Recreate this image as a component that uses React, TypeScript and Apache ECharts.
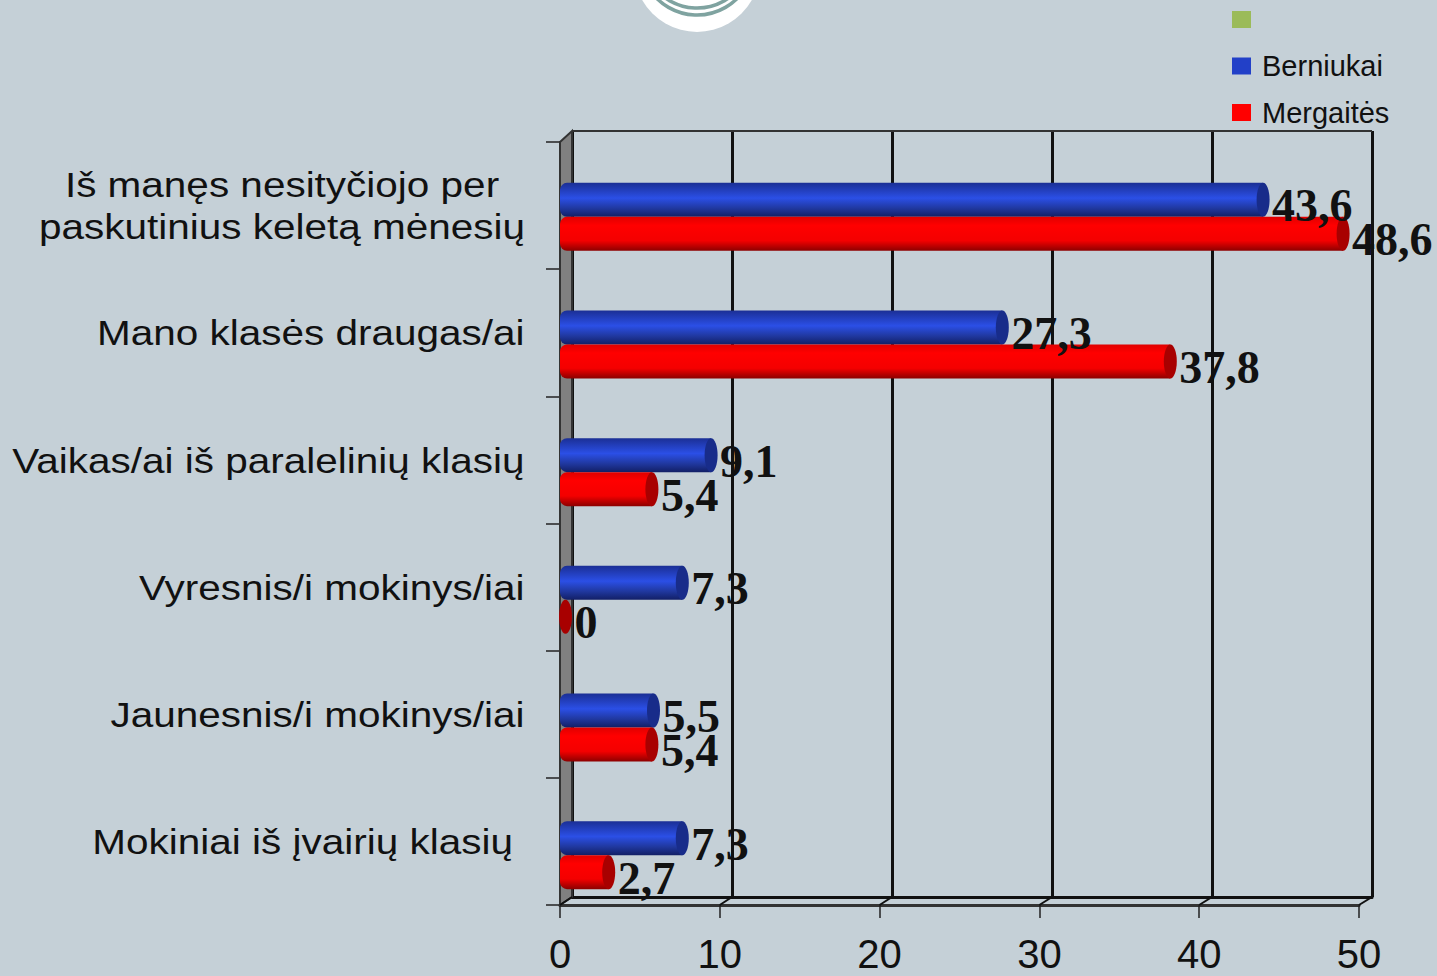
import React, { useEffect, useRef } from "react";
import * as echarts from "echarts";

const categories = [
  "Iš manęs nesityčiojo per\npaskutinius keletą mėnesių",
  "Mano klasės draugas/ai",
  "Vaikas/ai iš paralelinių klasių",
  "Vyresnis/i mokinys/iai",
  "Jaunesnis/i mokinys/iai",
  "Mokiniai iš įvairių klasių",
];
const berniukai = [43.6, 27.3, 9.1, 7.3, 5.5, 7.3];
const mergaites = [48.6, 37.8, 5.4, 0, 5.4, 2.7];
const xTicks = [0, 10, 20, 30, 40, 50];

const W = 1437, H = 976;
const FRONT = { left: 560, top: 142, width: 799, height: 763 };
const BARS = { left: 565.5, top: 153, width: 800, height: 766 };
const BACK = { left: 572, top: 131, width: 800, height: 766 };
const BG = "#c5d0d7";
const SANS = '"Liberation Sans", Arial, sans-serif';
const SERIF = '"Liberation Serif", "Times New Roman", serif';

const barH = 34;
const LABEL_STRETCH = 1.125;

const grad = (stops: [number, string][]) =>
  new echarts.graphic.LinearGradient(0, 0, 0, 1, stops.map(([offset, color]) => ({ offset, color })));

function barRenderer(dir: number, stops: [number, string][], capColor: string) {
  return (_p: any, api: any) => {
    const v = api.value(0);
    const [xv, yc] = api.coord([v, api.value(1)]);
    const cy = yc + (dir * barH) / 2;
    const children: any[] = [];
    if (v > 0) {
      children.push({
        type: "rect",
        shape: { x: FRONT.left, y: cy - barH / 2, width: xv - FRONT.left, height: barH, r: [7, 0, 0, 7] },
        style: { fill: grad(stops) },
      });
    }
    children.push({
      type: "ellipse",
      shape: { cx: xv, cy, rx: 6.5, ry: barH / 2 },
      style: { fill: capColor },
    });
    return { type: "group", children };
  };
}

function labelRenderer(dir: number) {
  return (_p: any, api: any) => {
    const v = api.value(0);
    const [xv, yc] = api.coord([v, api.value(1)]);
    const cy = yc + (dir * barH) / 2;
    return {
      type: "text",
      x: xv + 9,
      y: cy + 6,
      style: {
        text: String(v).replace(".", ","),
        font: `bold 46px ${SERIF}`,
        fill: "#111111",
        textAlign: "left",
        textVerticalAlign: "middle",
      },
    };
  };
}

function categoryLabels() {
  const band = FRONT.height / categories.length;
  return categories.map((name, i) => {
    const multi = name.includes("\n");
    const anchorX = multi ? 282 : i === categories.length - 1 ? 513 : 524.5;
    return {
      type: "text",
      z: 4,
      x: anchorX,
      y: FRONT.top + band * (i + 0.5),
      scaleX: LABEL_STRETCH,
      style: {
        text: name,
        font: `36px ${SANS}`,
        lineHeight: 42,
        fill: "#111111",
        textAlign: multi ? "center" : "right",
        textVerticalAlign: "middle",
      },
    };
  });
}

function frameGraphics() {
  const backX = (t: number) => BACK.left + (t / 50) * BACK.width;
  const frontX = (t: number) => FRONT.left + (t / 50) * FRONT.width;
  const floorY = BACK.top + BACK.height;
  const frontY = FRONT.top + FRONT.height;
  const els: any[] = [
    {
      type: "polygon",
      z: 1,
      shape: {
        points: [
          [FRONT.left, FRONT.top],
          [BACK.left, BACK.top],
          [BACK.left, floorY],
          [FRONT.left, frontY],
        ],
      },
      style: { fill: "#808080", stroke: "#333333", lineWidth: 2 },
    },
    {
      type: "line",
      z: 1,
      shape: { x1: BACK.left, y1: BACK.top, x2: BACK.left + BACK.width, y2: BACK.top },
      style: { stroke: "#333333", lineWidth: 2 },
    },
  ];
  xTicks.forEach((t) => {
    els.push({
      type: "line",
      z: 1,
      shape: { x1: frontX(t), y1: frontY, x2: backX(t), y2: floorY },
      style: { stroke: "#111111", lineWidth: 2 },
    });
  });
  // Logo fragment at the top of the page
  els.push(
    { type: "circle", z: 1, shape: { cx: 697, cy: -31, r: 63 }, style: { fill: "#ffffff" } },
    { type: "circle", z: 1, shape: { cx: 697, cy: -42, r: 57 }, style: { fill: "none", stroke: "#7fa3a0", lineWidth: 3.5 } },
    { type: "circle", z: 1, shape: { cx: 697, cy: -47, r: 55 }, style: { fill: "none", stroke: "#7fa3a0", lineWidth: 3.5 } }
  );
  return [...els, ...categoryLabels()];
}

export default function App() {
  const ref = useRef<HTMLDivElement>(null);
  useEffect(() => {
    document.body.style.margin = "0";
    const chart = echarts.init(ref.current!, undefined, { renderer: "svg" });
    const idx = (arr: number[]) => arr.map((v, i) => [v, i]);
    const custom = { type: "custom", xAxisIndex: 1, yAxisIndex: 1, clip: false, silent: true, encode: { x: 0, y: 1 } };
    chart.setOption({
      animation: false,
      backgroundColor: BG,
      textStyle: { fontFamily: SANS },
      graphic: { elements: frameGraphics() },
      legend: {
        orient: "vertical",
        left: 1232,
        top: 2,
        padding: 0,
        itemWidth: 19,
        itemHeight: 17,
        itemGap: 11.5,
        icon: "rect",
        selectedMode: false,
        data: [" ", "Berniukai", "Mergaitės"],
        textStyle: { fontFamily: SANS, fontSize: 29, color: "#111111", lineHeight: 35, padding: [0, 0, 0, 6] },
      },
      grid: [
        { ...FRONT, containLabel: false },
        { ...BARS, containLabel: false },
        { ...BACK, containLabel: false },
      ],
      xAxis: [
        {
          gridIndex: 0, type: "value", min: 0, max: 50, interval: 10,
          axisLine: { show: true, lineStyle: { color: "#333333", width: 3 } },
          axisTick: { show: true, length: 13, lineStyle: { color: "#222222", width: 1.5 } },
          axisLabel: { fontFamily: SANS, fontSize: 40, lineHeight: 36, color: "#111111", margin: 31 },
          splitLine: { show: false },
        },
        { gridIndex: 1, type: "value", min: 0, max: 50, interval: 10, show: false },
        {
          gridIndex: 2, type: "value", min: 0, max: 50, interval: 10,
          axisLine: { show: true, lineStyle: { color: "#111111", width: 3 } },
          axisTick: { show: false },
          axisLabel: { show: false },
          splitLine: { show: true, lineStyle: { color: "#111111", width: 3 } },
        },
      ],
      yAxis: [
        {
          gridIndex: 0, type: "category", inverse: true, data: categories,
          axisLine: { show: true, lineStyle: { color: "#333333", width: 2 } },
          axisTick: { show: true, length: 14, lineStyle: { color: "#222222", width: 1.5 } },
          axisLabel: { show: false },
        },
        { gridIndex: 1, type: "category", inverse: true, data: categories, show: false },
        { gridIndex: 2, type: "category", inverse: true, data: categories, show: false },
      ],
      series: [
        { ...custom, name: " ", itemStyle: { color: "#9bbb59" }, data: [], renderItem: () => null },
        {
          ...custom, name: "Berniukai", z: 3, itemStyle: { color: "#2240c8" }, data: idx(berniukai),
          renderItem: barRenderer(-1, [[0, "#1b2f95"], [0.45, "#2b4fe6"], [0.75, "#20389f"], [1, "#121f66"]], "#182c8a"),
        },
        {
          ...custom, name: "Mergaitės", z: 3, itemStyle: { color: "#ff0000" }, data: idx(mergaites),
          renderItem: barRenderer(1, [[0, "#e00000"], [0.25, "#ff0000"], [0.7, "#f40000"], [1, "#8c0000"]], "#a80000"),
        },
        { ...custom, name: "Berniukai", z: 5, itemStyle: { color: "#2240c8" }, data: idx(berniukai), renderItem: labelRenderer(-1) },
        { ...custom, name: "Mergaitės", z: 5, itemStyle: { color: "#ff0000" }, data: idx(mergaites), renderItem: labelRenderer(1) },
      ],
    });
    return () => chart.dispose();
  }, []);
  return <div ref={ref} style={{ width: W, height: H }} />;
}
